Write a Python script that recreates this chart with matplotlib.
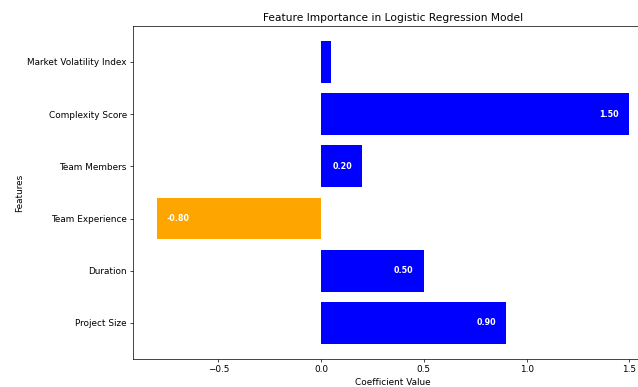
import matplotlib
matplotlib.use("Agg")
import matplotlib.pyplot as plt

# feature coefficients of the logistic regression model
features = ["Project Size", "Duration", "Team Experience", "Team Members",
            "Complexity Score", "Market Volatility Index"]
coefficients = [0.90, 0.50, -0.80, 0.20, 1.50, 0.05]

# original was drawn larger and shrunk, so scale everything down
s = 0.638
plt.rcParams["font.family"] = "DejaVu Sans"
plt.rcParams["axes.linewidth"] = 0.8 * s
plt.rcParams["xtick.major.size"] = 3.5 * s
plt.rcParams["ytick.major.size"] = 3.5 * s
plt.rcParams["xtick.major.width"] = 0.8 * s
plt.rcParams["ytick.major.width"] = 0.8 * s
plt.rcParams["xtick.major.pad"] = 3.5 * s
plt.rcParams["ytick.major.pad"] = 3.5 * s

fig = plt.figure(figsize=(6.38, 3.87), dpi=100)
ax = fig.add_axes([0.2085, 0.0724, 0.815, 0.8605])

colors = ["blue" if c >= 0 else "orange" for c in coefficients]
ax.barh(features, coefficients, color=colors)

# value labels inside the bars
for i, c in enumerate(coefficients):
    if abs(c) < 0.1:
        continue
    if c > 0:
        ax.text(c - 0.05, i, f"{c:.2f}", ha="right", va="center",
                color="white", fontweight="bold", fontsize=9 * s)
    else:
        ax.text(c + 0.05, i, f"{c:.2f}", ha="left", va="center",
                color="white", fontweight="bold", fontsize=9 * s)

ax.set_title("Feature Importance in Logistic Regression Model",
             fontsize=12 * s, pad=6 * s)
ax.set_xlabel("Coefficient Value", fontsize=10 * s, labelpad=4 * s)
ax.set_ylabel("Features", fontsize=10 * s, labelpad=4 * s)
ax.tick_params(labelsize=10 * s)

fig.savefig("out.png", dpi=100)
